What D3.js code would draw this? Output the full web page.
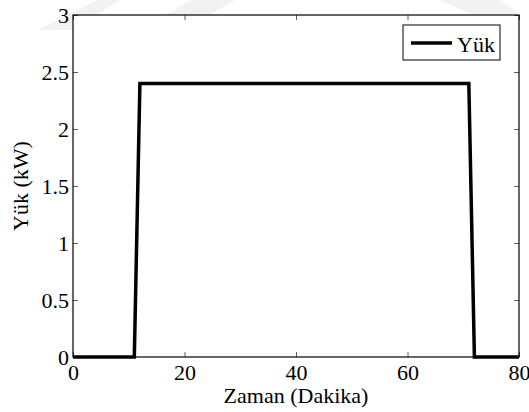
<!DOCTYPE html>
<html>
<head>
<meta charset="utf-8">
<script src="https://cdn.jsdelivr.net/npm/d3@7"></script>
<style>
  html, body { margin: 0; padding: 0; background: #fff; }
  svg { display: block; }
</style>
</head>
<body>
<svg id="chart" width="529" height="412"></svg>
<script>
// Load profile: time in minutes, load in kW
const timeMin = [0, 11, 12, 71, 72, 80];
const loadKW  = [0, 0, 2.4, 2.4, 0, 0];
const xTicks = [0, 20, 40, 60, 80];
const yTicks = [0, 0.5, 1, 1.5, 2, 2.5, 3];
const yTickLabels = ["0", "0.5", "1", "1.5", "2", "2.5", "3"];
const seriesName = "Yük";
const xLabel = "Zaman (Dakika)";
const yLabel = "Yük (kW)";

const FONT = '"Liberation Serif"';
const plotL = 73, plotR = 519, plotT = 15, plotB = 357;
const svg = d3.select("#chart");

// faint background bands
const bands = [
  [[38, 30], [98, 0], [120, 0], [72, 30]],
  [[160, 18], [192, 0], [235, 0], [205, 18]],
  [[440, 0], [500, 0], [520, 14], [470, 14]]
];
svg.selectAll("polygon.band").data(bands).join("polygon")
  .attr("class", "band")
  .attr("points", d => d.map(p => p.join(",")).join(" "))
  .attr("fill", "#f2f2f2");

const x = d3.scaleLinear().domain([0, 80]).range([plotL, plotR]);
const y = d3.scaleLinear().domain([0, 3]).range([plotB, plotT]);

// plot area
svg.append("rect")
  .attr("x", plotL).attr("y", plotT)
  .attr("width", plotR - plotL).attr("height", plotB - plotT)
  .attr("fill", "#fff");

const fs = 22;
const tickLen = 5;

function styleAxis(g) {
  g.attr("font-family", null).attr("font-size", null);
  g.select(".domain").remove();
  g.selectAll(".tick line").attr("stroke", "#333").attr("stroke-width", 0.8);
}

function styleText(sel) {
  sel.style("font-family", FONT).style("font-size", fs + "px").attr("fill", "#000");
}

// bottom axis with labels
svg.append("g")
  .attr("transform", `translate(0,${plotB})`)
  .call(d3.axisBottom(x).tickValues(xTicks).tickSize(-tickLen).tickPadding(0).tickFormat(d3.format("d")))
  .call(styleAxis)
  .call(g => g.selectAll(".tick text")
    .attr("y", 23).attr("dy", null).call(styleText));

// top axis, ticks only
svg.append("g")
  .attr("transform", `translate(0,${plotT})`)
  .call(d3.axisTop(x).tickValues(xTicks).tickSize(-tickLen).tickFormat(""))
  .call(styleAxis);

// left axis with labels
svg.append("g")
  .attr("transform", `translate(${plotL},0)`)
  .call(d3.axisLeft(y).tickValues(yTicks).tickSize(-tickLen).tickPadding(0)
    .tickFormat((d, i) => yTickLabels[i]))
  .call(styleAxis)
  .call(g => g.selectAll(".tick text")
    .attr("x", -4).attr("dy", "0.34em").call(styleText));

// right axis, ticks only
svg.append("g")
  .attr("transform", `translate(${plotR},0)`)
  .call(d3.axisRight(y).tickValues(yTicks).tickSize(-tickLen).tickFormat(""))
  .call(styleAxis);

// frame
svg.append("rect")
  .attr("x", plotL).attr("y", plotT)
  .attr("width", plotR - plotL).attr("height", plotB - plotT)
  .attr("fill", "none").attr("stroke", "#000").attr("stroke-width", 1.2);

// load line
const pts = timeMin.map((t, i) => [t, loadKW[i]]);
svg.append("path")
  .datum(pts)
  .attr("d", d3.line().x(d => x(d[0])).y(d => y(d[1])))
  .attr("fill", "none").attr("stroke", "#000")
  .attr("stroke-width", 3.5).attr("stroke-linejoin", "miter");

// legend
const lg = svg.append("g");
lg.append("rect")
  .attr("x", 403).attr("y", 25).attr("width", 97).attr("height", 35)
  .attr("fill", "#fff").attr("stroke", "#000").attr("stroke-width", 1);
lg.append("line")
  .attr("x1", 411).attr("x2", 452).attr("y1", 43).attr("y2", 43)
  .attr("stroke", "#000").attr("stroke-width", 3.5);
lg.append("text")
  .attr("x", 457).attr("y", 51.5)
  .call(styleText).text(seriesName);

// axis titles
svg.append("text")
  .attr("x", (plotL + plotR) / 2).attr("y", 403)
  .attr("text-anchor", "middle").call(styleText).text(xLabel);

svg.append("text")
  .attr("transform", `translate(28,${(plotT + plotB) / 2}) rotate(-90)`)
  .attr("text-anchor", "middle").call(styleText).text(yLabel);
</script>
</body>
</html>
